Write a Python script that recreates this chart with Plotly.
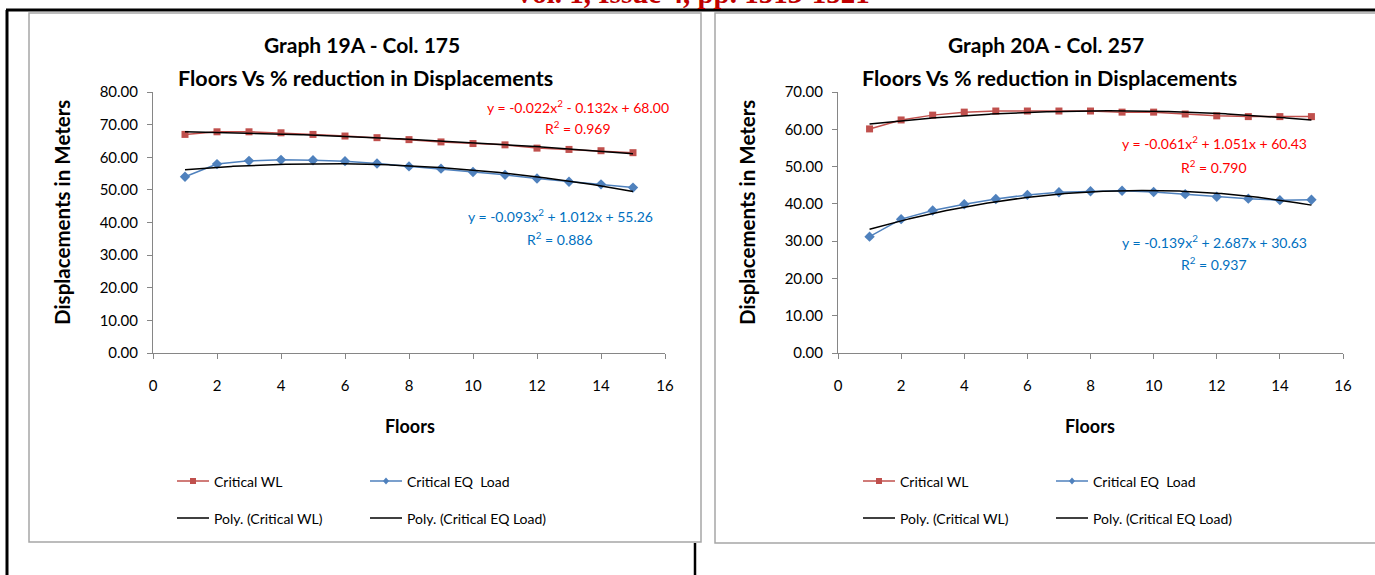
import numpy as np
import plotly.graph_objects as go

# ---- data -------------------------------------------------------------
floors = list(range(1, 16))

wl_19a = [67.0, 67.8, 67.8, 67.5, 67.0, 66.5, 66.0, 65.4, 64.7, 64.2, 63.8, 62.8, 62.4, 62.0, 61.4]
eq_19a = [54.0, 57.9, 58.9, 59.2, 59.1, 58.8, 58.1, 57.2, 56.5, 55.5, 54.6, 53.5, 52.5, 51.7, 50.7]
wl_20a = [60.1, 62.5, 63.8, 64.6, 64.9, 64.9, 64.9, 64.9, 64.6, 64.6, 64.1, 63.6, 63.4, 63.4, 63.4]
eq_20a = [31.2, 35.9, 38.2, 39.9, 41.3, 42.4, 43.1, 43.4, 43.5, 43.2, 42.6, 41.9, 41.4, 41.0, 41.1]

# quadratic trend-line coefficients [a, b, c] and R^2
poly_wl_19a, r2_wl_19a = [-0.022, -0.132, 68.00], 0.969
poly_eq_19a, r2_eq_19a = [-0.093, 1.012, 55.26], 0.886
poly_wl_20a, r2_wl_20a = [-0.061, 1.051, 60.43], 0.790
poly_eq_20a, r2_eq_20a = [-0.139, 2.687, 30.63], 0.937

titles = ["Graph 19A - Col. 175", "Graph 20A - Col. 257"]
subtitle = "Floors Vs % reduction in Displacements"
header = "Vol. 1, Issue 4, pp. 1513-1521"

# ---- styling ----------------------------------------------------------
W, H = 1375, 575
FONT = "Lato"
RED, BLUE = "#C0504D", "#4F81BD"
RED_TXT, BLUE_TXT = "#FF0000", "#0070C0"
AXIS = "#868686"


def px(x):
    return x / W


def py(y):
    return 1 - y / H


def eq_text(c):
    a, b, k = c
    s = f"y = {a:.3f}x<sup>2</sup>"
    s += f" {'-' if b < 0 else '+'} {abs(b):.3f}x"
    s += f" {'-' if k < 0 else '+'} {abs(k):.2f}"
    return s


def label(text, x, y, size, color="black", anchor="center", angle=0, family=FONT, yanchor="middle"):
    return dict(text=text, x=px(x), y=py(y), xref="paper", yref="paper", showarrow=False,
                xanchor=anchor, yanchor=yanchor, textangle=angle,
                font=dict(family=family, size=size, color=color))


fig = go.Figure()

panels = [
    dict(xa="x", ya="y", wl=wl_19a, eq=eq_19a, pw=poly_wl_19a, pe=poly_eq_19a),
    dict(xa="x2", ya="y2", wl=wl_20a, eq=eq_20a, pw=poly_wl_20a, pe=poly_eq_20a),
]

xs = np.linspace(1, 15, 300)
for p in panels:
    fig.add_trace(go.Scatter(x=floors, y=p["wl"], xaxis=p["xa"], yaxis=p["ya"],
                             mode="lines+markers", line=dict(color=RED, width=1.5),
                             marker=dict(symbol="square", size=7, color=RED),
                             showlegend=False, hoverinfo="skip"))
    fig.add_trace(go.Scatter(x=floors, y=p["eq"], xaxis=p["xa"], yaxis=p["ya"],
                             mode="lines+markers", line=dict(color=BLUE, width=1.5),
                             marker=dict(symbol="diamond", size=8, color=BLUE),
                             showlegend=False, hoverinfo="skip"))
    for c in (p["pw"], p["pe"]):
        fig.add_trace(go.Scatter(x=xs, y=np.polyval(c, xs), xaxis=p["xa"], yaxis=p["ya"],
                                 mode="lines", line=dict(color="black", width=1.5),
                                 showlegend=False, hoverinfo="skip"))

axis_common = dict(showgrid=False, zeroline=False, showline=True, linecolor=AXIS,
                   linewidth=1, ticks="outside", tickcolor=AXIS, ticklen=5,
                   tickfont=dict(family=FONT, size=15, color="black"))

fig.update_layout(
    width=W, height=H, margin=dict(l=0, r=0, t=0, b=0, autoexpand=False),
    paper_bgcolor="white", plot_bgcolor="white",
    xaxis=dict(domain=[px(153), px(665)], range=[0, 16], dtick=2, anchor="y",
               ticklabelstandoff=14, **axis_common),
    yaxis=dict(domain=[py(353), py(92)], range=[0, 80], dtick=10, tickformat=".2f",
               anchor="x", ticklabelstandoff=6, **axis_common),
    xaxis2=dict(domain=[px(838), px(1343)], range=[0, 16], dtick=2, anchor="y2",
                ticklabelstandoff=14, **axis_common),
    yaxis2=dict(domain=[py(353), py(92)], range=[0, 70], dtick=10, tickformat=".2f",
                anchor="x2", ticklabelstandoff=6, **axis_common),
)

shapes = []
ann = []

# page frame lines and chart boxes
shapes.append(dict(type="line", xref="paper", yref="paper", x0=px(6), x1=1.01,
                   y0=py(10), y1=py(10), line=dict(color="black", width=3)))
shapes.append(dict(type="line", xref="paper", yref="paper", x0=px(7), x1=px(7),
                   y0=py(10), y1=py(580), line=dict(color="black", width=3)))
shapes.append(dict(type="line", xref="paper", yref="paper", x0=px(695), x1=px(695),
                   y0=py(543), y1=py(580), line=dict(color="black", width=2.5)))
shapes.append(dict(type="rect", xref="paper", yref="paper", x0=px(29), x1=px(701),
                   y0=py(542), y1=py(13), line=dict(color="#A6A6A6", width=1.5)))
shapes.append(dict(type="rect", xref="paper", yref="paper", x0=px(715), x1=px(1385),
                   y0=py(543), y1=py(13), line=dict(color="#A6A6A6", width=1.5)))

ann.append(label(f"<b>{header}</b>", 692, 11, 29, color="#C00000",
                 family="Liberation Serif", yanchor="bottom"))

# per-panel text
title_cx = [362, 1046]
plot_cx = [410, 1090]
ytitle_x = [62, 747]
eq_pos = [
    [(578, 106, 128, poly_wl_19a, r2_wl_19a, RED_TXT), (560, 216, 239, poly_eq_19a, r2_eq_19a, BLUE_TXT)],
    [(1214, 143, 166, poly_wl_20a, r2_wl_20a, RED_TXT), (1214, 241, 264, poly_eq_20a, r2_eq_20a, BLUE_TXT)],
]
legend_x = [(177, 370), (863, 1056)]

for i in range(2):
    ann.append(label(f"<b>{titles[i]}</b>", title_cx[i], 45, 21))
    ann.append(label(f"<b>{subtitle}</b>", title_cx[i] + 3, 78, 21.5))
    ann.append(label("<b>Displacements in Meters</b>", ytitle_x[i], 213, 20.5, angle=-90))
    ann.append(label("<b>Floors</b>", plot_cx[i], 426, 18))
    for cx, ye, yr, c, r2, col in eq_pos[i]:
        ann.append(label(eq_text(c), cx, ye, 14, color=col))
        ann.append(label(f"R<sup>2</sup> = {r2:.3f}", cx, yr, 14, color=col))

    # legend block
    items = [
        (legend_x[i][0], 481, "Critical WL", RED, "square"),
        (legend_x[i][1], 481, "Critical EQ  Load", BLUE, "diamond"),
        (legend_x[i][0], 518, "Poly. (Critical WL)", "black", None),
        (legend_x[i][1], 518, "Poly. (Critical EQ Load)", "black", None),
    ]
    for lx, ly, text, col, sym in items:
        shapes.append(dict(type="line", xref="paper", yref="paper", x0=px(lx), x1=px(lx + 32),
                           y0=py(ly), y1=py(ly), line=dict(color=col, width=1.5)))
        if sym == "square":
            shapes.append(dict(type="rect", xref="paper", yref="paper", x0=px(lx + 13),
                               x1=px(lx + 19), y0=py(ly + 3), y1=py(ly - 3),
                               fillcolor=col, line=dict(width=0)))
        elif sym == "diamond":
            cx0 = lx + 16
            path = (f"M {px(cx0)} {py(ly - 3.5)} L {px(cx0 + 3)} {py(ly)} "
                    f"L {px(cx0)} {py(ly + 3.5)} L {px(cx0 - 3)} {py(ly)} Z")
            shapes.append(dict(type="path", xref="paper", yref="paper", path=path,
                               fillcolor=col, line=dict(width=0)))
        ann.append(label(text, lx + 35, ly, 14, anchor="left"))

fig.update_layout(shapes=shapes, annotations=ann)
fig.write_html("out.html")
